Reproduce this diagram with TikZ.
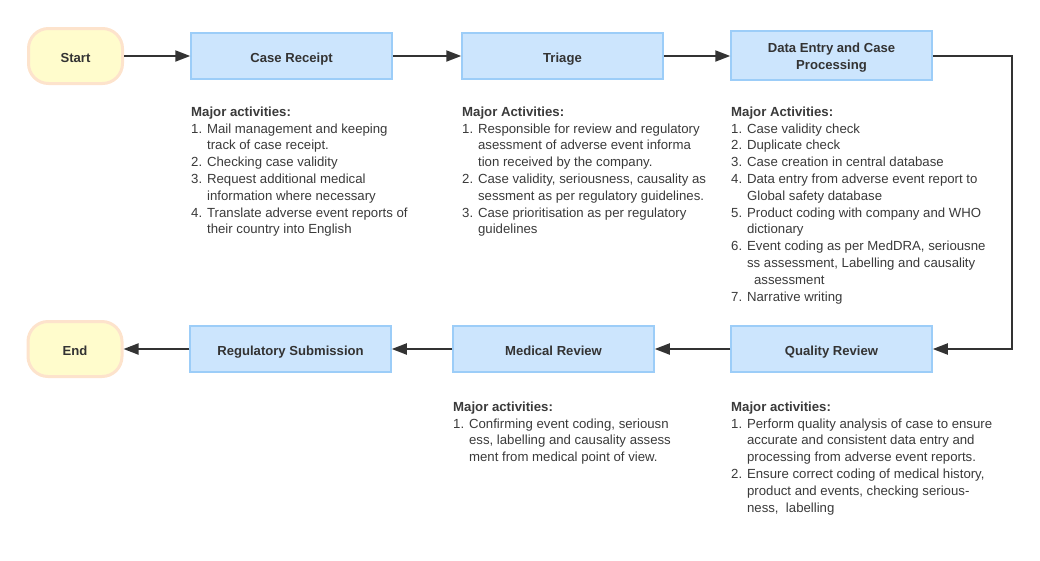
\documentclass[tikz,border=0pt]{standalone}
\usepackage{fontspec}
\setmainfont{Liberation Sans}
\usetikzlibrary{arrows.meta}
\definecolor{boxfill}{HTML}{CCE5FD}
\definecolor{boxline}{HTML}{9CCDF8}
\definecolor{termfill}{HTML}{FFFCCC}
\definecolor{termline}{HTML}{FDE3CC}
\definecolor{ink}{HTML}{333333}
\definecolor{txt}{HTML}{3A3A3A}
\newcommand{\ind}{\phantom{1. }}
\tikzset{
  stepbox/.style={draw=boxline, fill=boxfill, line width=1.5pt, minimum height=46pt,
    minimum width=201pt, font=\fontsize{13.1}{17}\selectfont\bfseries, text=ink, align=center,
    text height=12.4pt, text depth=0pt},
  term/.style={draw=termline, fill=termfill, line width=3pt, rounded corners=20pt,
    minimum width=94pt, minimum height=55pt, font=\fontsize{13.1}{17}\selectfont\bfseries, text=ink,
    text height=12.4pt, text depth=0pt},
  notes/.style={anchor=north west, inner sep=0pt, align=left, text=txt,
    font=\fontsize{13.2}{16.8}\selectfont},
  flow/.style={draw=ink, line width=2pt, -{Triangle[length=15pt,width=11pt]}}
}
\begin{document}
\begin{tikzpicture}[x=1pt,y=-1pt]
\useasboundingbox (0,0) rectangle (1040,560);
\node[term] (start) at (75.5,56) {Start};
\node[stepbox] (receipt) at (291.5,56) {Case Receipt};
\node[stepbox] (triage) at (562.5,56) {Triage};
\node[stepbox, minimum height=49pt, text height=28.6pt] (entry) at (831.5,55.5) {Data Entry and Case\\Processing};
\node[stepbox] (quality) at (831.5,349) {Quality Review};
\node[stepbox] (medical) at (553.5,349) {Medical Review};
\node[stepbox] (submit) at (290.5,349) {Regulatory Submission};
\node[term] (end) at (75,349) {End};
\coordinate (c1) at (1012,55.5);
\coordinate (c2) at (1012,349);
\draw[flow] (start) -- (start -| receipt.west);
\draw[flow] (receipt) -- (receipt -| triage.west);
\draw[flow] (triage) -- (triage -| entry.west);
\draw[flow] (entry.east) -- (c1) -- (c2) -- (quality.east);
\draw[flow] (quality) -- (quality -| medical.east);
\draw[flow] (medical) -- (medical -| submit.east);
\draw[flow] (submit) -- (submit -| end.east);

\node[notes] (n1) at (191,106.5) {\textbf{Major activities:}\\
1. Mail management and keeping\\
\ind track of case receipt.\\
2. Checking case validity\\
3. Request additional medical\\
\ind information where necessary\\
4. Translate adverse event reports of\\
\ind their country into English};

\node[notes] (n2) at (462,106.5) {\textbf{Major Activities:}\\
1. Responsible for review and regulatory\\
\ind asessment of adverse event informa\\
\ind tion received by the company.\\
2. Case validity, seriousness, causality as\\
\ind sessment as per regulatory guidelines.\\
3. Case prioritisation as per regulatory\\
\ind guidelines};

\node[notes] (n3) at (731,106.5) {\textbf{Major Activities:}\\
1. Case validity check\\
2. Duplicate check\\
3. Case creation in central database\\
4. Data entry from adverse event report to\\
\ind Global safety database\\
5. Product coding with company and WHO\\
\ind dictionary\\
6. Event coding as per MedDRA, seriousne\\
\ind ss assessment, Labelling and causality\\
\ind\hspace{7pt}assessment\\
7. Narrative writing};

\node[notes] (n4) at (453,401.5) {\textbf{Major activities:}\\
1. Confirming event coding, seriousn\\
\ind ess, labelling and causality assess\\
\ind ment from medical point of view.};

\node[notes] (n5) at (731,401.5) {\textbf{Major activities:}\\
1. Perform quality analysis of case to ensure\\
\ind accurate and consistent data entry and\\
\ind processing from adverse event reports.\\
2. Ensure correct coding of medical history,\\
\ind product and events, checking serious-\\
\ind ness,\ \ labelling};
\end{tikzpicture}
\end{document}
